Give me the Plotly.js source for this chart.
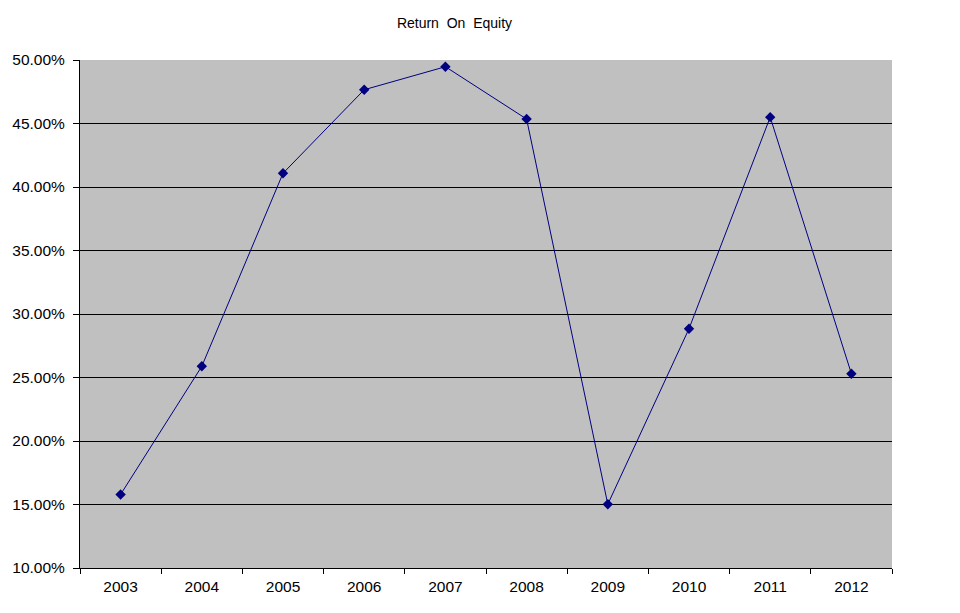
<!DOCTYPE html>
<html>
<head>
<meta charset="utf-8">
<script src="https://cdn.plot.ly/plotly-3.0.1.min.js"></script>
<style>html,body{margin:0;padding:0;background:#fff;}#chart{width:960px;height:613px;}</style>
</head>
<body>
<div id="chart"></div>
<script>
var years = ["2003","2004","2005","2006","2007","2008","2009","2010","2011","2012"];
var roe = [0.1579, 0.2588, 0.4108, 0.4766, 0.4947, 0.4535, 0.1502, 0.2884, 0.4550, 0.2530];
var yTicks = [0.10, 0.15, 0.20, 0.25, 0.30, 0.35, 0.40, 0.45, 0.50];

var trace = {
  x: years, y: roe, type: "scatter", mode: "lines+markers",
  line: {color: "#000080", width: 1},
  marker: {symbol: "diamond", size: 8, color: "#000080"},
  hoverinfo: "x+y"
};

var font = {family: "Liberation Sans, Arial, sans-serif", size: 15.5, color: "#000"};

var layout = {
  width: 960, height: 613,
  margin: {l: 80, r: 68, t: 60, b: 45},
  paper_bgcolor: "#ffffff", plot_bgcolor: "#C0C0C0",
  showlegend: false,
  font: font,
  title: {text: "Return  On  Equity", x: 0.4734, xanchor: "center", xref: "container",
          y: 0.962, yanchor: "middle", yref: "container",
          font: {family: "Liberation Sans, Arial, sans-serif", size: 14, color: "#000"}},
  xaxis: {type: "category", range: [-0.5, 9.5], tickson: "boundaries",
          ticks: "outside", ticklen: 5, tickcolor: "#000", tickwidth: 1,
          showline: true, linecolor: "#000", linewidth: 1, showgrid: false,
          ticklabelstandoff: 4,
          zeroline: false, fixedrange: true, tickfont: font},
  yaxis: {range: [0.10, 0.50], tickvals: yTicks, tickformat: ".2%",
          ticks: "outside", ticklen: 6, tickcolor: "#000", tickwidth: 1,
          showline: true, linecolor: "#000", linewidth: 1,
          showgrid: true, gridcolor: "#000000", gridwidth: 1,
          ticklabelstandoff: 5,
          zeroline: false, fixedrange: true, tickfont: font}
};

Plotly.newPlot("chart", [trace], layout, {displayModeBar: false, staticPlot: true});
</script>
</body>
</html>
